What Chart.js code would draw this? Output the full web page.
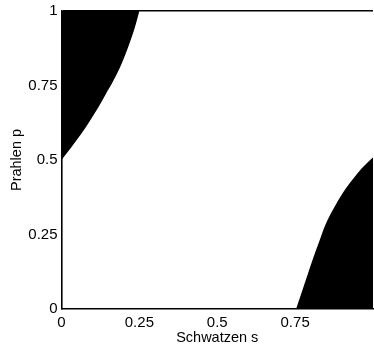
<!DOCTYPE html>
<html>
<head>
<meta charset="utf-8">
<script src="https://cdn.jsdelivr.net/npm/chart.js@4/dist/chart.umd.min.js"></script>
<style>
  html, body { margin: 0; padding: 0; background: #fff; overflow: hidden; }
  #wrap { width: 378px; height: 352px; margin-top: -2px; }
</style>
</head>
<body>
<div id="wrap"><canvas id="regionChart"></canvas></div>
<script>
// top-left region boundary
const upperS = [0, 0.031, 0.063, 0.091, 0.118, 0.142, 0.166, 0.187, 0.205, 0.221, 0.235, 0.247, 0.25];
const upperP = [0.5, 0.542, 0.587, 0.631, 0.676, 0.721, 0.765, 0.809, 0.854, 0.899, 0.943, 0.988, 1];

// bottom-right region boundary
const lowerS = [0.753, 0.772, 0.79, 0.808, 0.827, 0.847, 0.874, 0.906, 0.937, 0.964, 0.985, 1];
const lowerP = [0, 0.059, 0.115, 0.171, 0.226, 0.282, 0.338, 0.394, 0.438, 0.472, 0.494, 0.508];

const tickValues = [0, 0.25, 0.5, 0.75, 1];

const toPoints = (xs, ys) => xs.map((x, i) => ({ x: x, y: ys[i] }));

const font = { family: "'Liberation Sans', Arial, sans-serif", size: 15 };
const titleFont = { family: "'Liberation Sans', Arial, sans-serif", size: 14.5 };

new Chart(document.getElementById("regionChart"), {
    type: 'line',
    data: {
        datasets: [{
            data: toPoints(upperS, upperP),
            borderWidth: 0,
            borderColor: '#000',
            backgroundColor: '#000',
            pointRadius: 0,
            cubicInterpolationMode: 'monotone',
            fill: 'end'
        }, {
            data: toPoints(lowerS, lowerP),
            borderWidth: 0,
            borderColor: '#000',
            backgroundColor: '#000',
            pointRadius: 0,
            cubicInterpolationMode: 'monotone',
            fill: 'start'
        }]
    },
    options: {
        responsive: true,
        maintainAspectRatio: false,
        animation: false,
        layout: { padding: { top: 1, left: 0, right: 0, bottom: 0 } },
        plugins: { legend: { display: false }, tooltip: { enabled: false } },
        scales: {
            x: {
                type: 'linear',
                min: 0,
                max: 1,
                afterBuildTicks: axis => { axis.ticks = tickValues.map(v => ({ value: v })); },
                afterFit: axis => { axis.height = 41; },
                grid: { display: false, drawTicks: false },
                border: { display: true, color: '#000', width: 1.6 },
                ticks: { color: '#000', font: font, padding: 5, maxRotation: 0,
                         callback: v => (v === 1 ? '' : String(v)) },
                title: { display: true, text: 'Schwatzen s', color: '#000', font: titleFont,
                         padding: { top: 0, bottom: 3 } }
            },
            y: {
                type: 'linear',
                min: 0,
                max: 1,
                afterBuildTicks: axis => { axis.ticks = tickValues.map(v => ({ value: v })); },
                afterFit: axis => { axis.width = 61.5; },
                grid: {
                    drawTicks: false,
                    color: ctx => (ctx.tick && ctx.tick.value === 1) ? '#000' : 'rgba(0,0,0,0)',
                    lineWidth: 1.6
                },
                border: { display: true, color: '#000', width: 1.6 },
                ticks: { color: '#000', font: font, padding: 4,
                         callback: v => String(v) },
                title: { display: true, text: 'Prahlen p', color: '#000', font: titleFont,
                         padding: { top: 8, bottom: 0 } }
            }
        }
    }
});
</script>
</body>
</html>
